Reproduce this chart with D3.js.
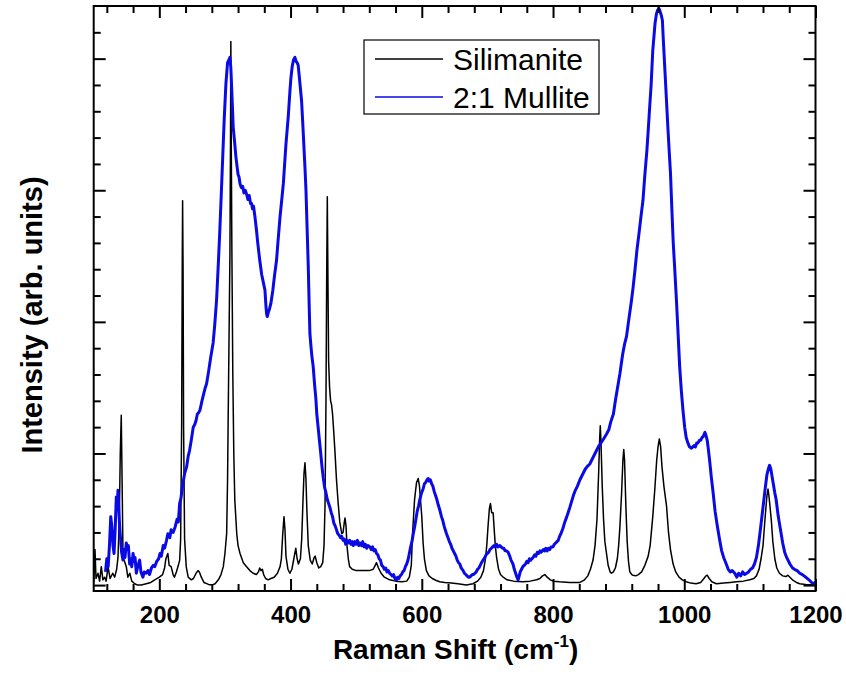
<!DOCTYPE html>
<html><head><meta charset="utf-8">
<script src="https://cdn.jsdelivr.net/npm/d3@7/dist/d3.min.js"></script>
<style>body{margin:0;background:#fff}svg{display:block}</style>
</head><body><svg id="c" width="846" height="683"></svg>
<script>
// ---- data (Raman shift in cm^-1, intensity in arbitrary units) ----
const seriesNames = ["Silimanite", "2:1 Mullite"];
const seriesColors = ["#000000", "#0a0ae6"];

const silimanite = [
[100,0.02],[101,0.15],[102,0.27],[103.5,0.05],[106.5,0.09],[109,0.03],[111.6,0.14],[114,0.04],[116.7,0.06],[119,0.03],
[121.8,0.14],[125,0.05],[129,0.09],[132,0.06],[135,0.12],[137,0.21],[139,0.5],[140.5,1.0],[142,1.29],[143,0.9],
[144.7,0.21],[147,0.18],[149.7,0.14],[152,0.06],[155,0.09],[158,0.03],[162.5,0.01],[167,0.0],[172.5,0.0],[180,0.01],
[187,0.02],[193,0.04],[200,0.06],[205,0.08],[208,0.13],[210,0.2],[213,0.24],[215,0.15],[218,0.14],[221,0.08],
[223,0.06],[226,0.1],[229,0.15],[231,0.19],[232.5,0.35],[234,1.2],[235,2.5],[235.5,2.92],[236.2,2.4],[237,1.2],
[238.5,0.35],[241,0.14],[244,0.06],[248.7,0.04],[252,0.05],[256,0.09],[259,0.11],[261,0.1],[264,0.06],[268,0.02],
[275,0.005],[280,0.0],[285,0.01],[290,0.04],[294,0.08],[297.5,0.14],[300,0.24],[302.6,0.39],[304,0.8],[305,1.3],
[306.5,2.0],[307.6,2.5],[308.5,3.4],[309,4.13],[309.5,3.5],[310.5,2.6],[312,1.6],[313.5,1.0],[315,0.65],[318,0.39],
[320,0.3],[323,0.24],[328,0.17],[333,0.14],[338,0.11],[343,0.09],[348,0.08],[351,0.1],[353,0.13],[355,0.11],
[357,0.12],[359,0.08],[362,0.05],[366,0.04],[370,0.05],[375,0.06],[380,0.09],[384,0.14],[386,0.2],[388,0.38],
[390,0.52],[391.5,0.42],[393,0.22],[396,0.12],[399,0.09],[402,0.12],[405,0.2],[408,0.28],[410,0.2],[412,0.16],
[415,0.2],[417,0.35],[419,0.65],[420.5,0.85],[422,0.93],[423.5,0.8],[425,0.55],[427,0.3],[430,0.19],[433,0.16],
[436,0.21],[437.5,0.22],[440,0.17],[443,0.13],[446,0.14],[449,0.17],[451,0.3],[452.5,0.6],[454,1.4],[455,2.3],
[456,2.95],[457,2.3],[458,1.7],[459.5,1.5],[461,1.4],[462.5,1.37],[464,1.3],[466,1.15],[467.6,1.02],[470,0.8],
[472.6,0.62],[475,0.48],[478,0.39],[480,0.4],[482,0.48],[483,0.51],[484.5,0.45],[486,0.3],[488,0.2],[490,0.14],
[494,0.12],[500,0.11],[505,0.11],[512,0.11],[520,0.11],[526,0.12],[529,0.15],[531,0.17],[534,0.13],[538,0.09],
[543,0.06],[551,0.04],[560,0.03],[570,0.025],[577,0.03],[581,0.06],[584,0.15],[586,0.4],[589,0.65],[592,0.78],
[594.5,0.81],[596.5,0.75],[598,0.65],[600,0.52],[602,0.32],[604,0.2],[607,0.11],[611,0.07],[616,0.05],[622,0.035],
[627.5,0.025],[635,0.02],[645,0.015],[655,0.01],[668,0.0],[678,0.01],[685,0.03],[690,0.06],[694,0.11],[697,0.2],
[699,0.3],[701,0.45],[703,0.58],[704.7,0.62],[706.5,0.55],[708.7,0.55],[710,0.45],[712,0.3],[714,0.21],[717,0.12],
[720,0.08],[724,0.06],[730,0.04],[740,0.03],[754,0.025],[765,0.03],[775,0.04],[780,0.05],[784,0.07],[787.5,0.08],
[791,0.06],[796,0.04],[800,0.03],[810,0.025],[825,0.02],[841,0.02],[848,0.04],[853,0.07],[857,0.12],[861,0.19],
[864,0.3],[867,0.5],[869.5,0.85],[871,1.1],[872,1.21],[873,1.1],[875,0.75],[877,0.5],[879,0.33],[881.5,0.24],
[884,0.15],[887,0.1],[889,0.09],[892,0.1],[895,0.13],[898,0.2],[900,0.3],[902,0.45],[904.5,0.7],[906.5,0.95],
[907.8,1.03],[909,0.95],[911,0.6],[913,0.33],[915,0.18],[917,0.1],[920,0.08],[922,0.075],[926,0.07],[930,0.08],
[935,0.1],[940,0.15],[945,0.22],[948,0.3],[952,0.52],[955,0.72],[958,0.95],[960,1.05],[962,1.11],[964,1.05],
[966,0.9],[969,0.75],[973,0.6],[976,0.4],[979,0.27],[983,0.16],[987,0.1],[992,0.06],[997,0.04],[1003,0.025],
[1010,0.015],[1018,0.01],[1025,0.02],[1030,0.05],[1033,0.07],[1035,0.075],[1038,0.05],[1042,0.025],[1049,0.01],[1060,0.015],
[1070,0.02],[1079,0.025],[1090,0.03],[1100,0.04],[1106,0.05],[1110,0.07],[1114,0.12],[1117,0.2],[1120,0.3],[1123,0.5],
[1126,0.68],[1127.6,0.73],[1129,0.68],[1131,0.58],[1132.7,0.49],[1135,0.33],[1138,0.2],[1141,0.13],[1145,0.09],[1150,0.07],
[1155,0.065],[1158,0.075],[1161,0.06],[1166,0.035],[1171,0.02],[1176,0.01],[1185,0.005],[1199,0.0]
];

const mullite = [
[118,0.1],[120,0.2],[122,0.14],[124,0.3],[126,0.52],[127.5,0.45],[129.4,0.3],[131,0.24],[132.5,0.4],[134.5,0.67],
[136,0.6],[137,0.72],[138.5,0.55],[139.6,0.44],[141,0.35],[142.5,0.25],[144.6,0.19],[146,0.27],[147.7,0.21],[149.7,0.32],
[151,0.28],[152.8,0.3],[154.8,0.16],[156,0.2],[158,0.14],[160,0.24],[162,0.18],[163,0.21],[165,0.09],[167,0.14],
[170,0.19],[172,0.1],[175,0.06],[177,0.1],[180,0.09],[182.7,0.11],[185,0.08],[188,0.13],[190.8,0.15],[193,0.14],
[196,0.18],[199,0.2],[201,0.24],[203,0.22],[206,0.3],[208,0.28],[211,0.34],[213,0.39],[216,0.36],[218,0.42],
[221,0.4],[224,0.44],[227,0.5],[229,0.48],[231,0.62],[233,0.66],[235,0.74],[238.6,0.85],[241.7,0.9],[244,0.98],
[246,1.02],[248.7,1.1],[251.7,1.2],[254,1.22],[256,1.25],[258,1.3],[260,1.31],[262,1.33],[265,1.4],[268,1.46],
[270,1.5],[272,1.53],[275,1.62],[278,1.72],[280,1.78],[282,1.84],[284.5,1.98],[287.3,2.17],[290,2.45],[292,2.67],
[294.5,2.98],[297,3.3],[299,3.55],[301.5,3.81],[304,3.97],[306,3.99],[307.6,4.01],[309,3.93],[310,3.81],[311.5,3.62],
[312.6,3.48],[314.5,3.38],[316.8,3.25],[318.5,3.18],[320,3.12],[321.5,3.1],[323,3.05],[325,3.02],[327,3.03],[329,2.98],
[331,3.0],[333,2.97],[335,2.93],[337,2.96],[339,2.9],[340.7,2.9],[342,2.86],[343.5,2.88],[345.7,2.8],[348,2.7],
[350,2.6],[353,2.47],[356,2.36],[358.5,2.3],[361,2.24],[362.5,2.12],[363.5,2.06],[364.5,2.04],[366,2.07],[368,2.1],
[370,2.14],[373,2.24],[375.5,2.35],[378.7,2.47],[381,2.62],[384,2.8],[387,2.95],[389,3.05],[391,3.2],[393,3.35],
[396.5,3.56],[399,3.75],[400.5,3.85],[402.5,3.94],[404.5,3.99],[406.6,4.01],[408.5,3.98],[410,3.97],[411.6,3.95],[413,3.88],
[414.5,3.8],[416.8,3.68],[418.5,3.52],[420,3.37],[421.9,3.18],[423.5,3.0],[425,2.75],[427,2.42],[428.5,2.1],[429.5,1.91],
[431,1.82],[432.5,1.74],[434.5,1.66],[436.5,1.53],[438.5,1.42],[440,1.3],[442,1.2],[444,1.1],[446,1.0],[447.7,0.91],
[449.7,0.82],[452,0.74],[454,0.7],[456,0.65],[458,0.62],[460,0.59],[462,0.55],[464,0.52],[466,0.47],[468,0.45],
[470,0.42],[472,0.39],[474,0.38],[476,0.36],[478,0.37],[480,0.34],[482,0.35],[484,0.31],[486,0.34],[488,0.32],
[490,0.34],[492,0.31],[494,0.33],[495.5,0.3],[498,0.33],[500,0.31],[502,0.34],[504,0.3],[505.6,0.32],[508,0.3],
[510,0.33],[512,0.29],[514,0.31],[516,0.28],[518,0.3],[521,0.29],[523,0.27],[525,0.29],[527,0.26],[529,0.27],
[531,0.24],[533,0.23],[535,0.2],[537,0.19],[539,0.15],[541,0.14],[543,0.12],[545,0.13],[547,0.1],[549,0.11],
[551,0.09],[553,0.08],[555,0.07],[557,0.08],[559,0.05],[561.5,0.04],[563,0.06],[565,0.05],[567,0.07],[569,0.08],
[571,0.1],[573,0.11],[575,0.14],[577,0.16],[579,0.19],[581,0.24],[583,0.29],[585,0.33],[587,0.39],[589,0.44],
[591,0.5],[593,0.56],[595,0.6],[597,0.65],[599.6,0.7],[602,0.73],[604,0.77],[606,0.78],[608,0.8],[609.7,0.81],
[611,0.79],[613,0.8],[615,0.77],[617,0.75],[619,0.71],[621,0.68],[623,0.65],[625,0.61],[627.5,0.57],[630,0.52],
[632,0.49],[634,0.45],[635.7,0.42],[637.7,0.39],[640,0.36],[642,0.33],[644,0.31],[646,0.28],[648,0.26],[650,0.24],
[652,0.22],[654,0.19],[656,0.17],[658,0.16],[660,0.13],[663,0.11],[665,0.09],[667,0.08],[669,0.07],[671,0.06],
[673,0.06],[675,0.07],[677,0.08],[679,0.08],[681,0.09],[683,0.1],[685,0.12],[687,0.13],[689,0.15],[691,0.17],
[693.5,0.19],[696,0.21],[698,0.23],[700,0.24],[702,0.25],[704,0.27],[706,0.28],[708,0.29],[710,0.3],[712,0.29],
[714,0.31],[716,0.29],[719,0.3],[721,0.29],[723,0.28],[725,0.28],[727,0.26],[729,0.26],[731.5,0.25],[734,0.22],
[736,0.19],[739,0.16],[741,0.12],[743,0.09],[745,0.06],[746.8,0.04],[748,0.06],[750,0.1],[752,0.12],[754,0.14],
[756,0.15],[758,0.16],[760,0.18],[762,0.17],[764,0.2],[766,0.19],[769.6,0.21],[772,0.23],[774,0.22],[776,0.25],
[778,0.24],[780,0.26],[782,0.25],[785,0.27],[787,0.26],[789,0.28],[791,0.26],[793,0.28],[795,0.27],[797,0.29],
[800,0.29],[802,0.31],[804,0.32],[806,0.33],[808,0.34],[810,0.37],[812,0.39],[815,0.43],[818,0.48],[821,0.52],
[823,0.55],[825.6,0.59],[828,0.63],[831,0.68],[834,0.72],[837,0.75],[841,0.8],[845,0.84],[849,0.88],[852,0.9],
[856,0.92],[860,0.96],[864,1.0],[869,1.05],[873,1.08],[877,1.11],[881.8,1.15],[885,1.18],[888,1.24],[892,1.3],
[895,1.4],[898,1.49],[902,1.61],[906,1.75],[909,1.83],[912,1.89],[915,2.0],[919.5,2.16],[922,2.26],[925,2.4],
[928,2.55],[931,2.67],[934,2.8],[937,2.92],[940,3.12],[943,3.3],[945,3.45],[947,3.61],[949.5,3.8],[952,4.06],
[954,4.18],[955.5,4.27],[957.6,4.34],[959.5,4.37],[961.5,4.38],[963,4.36],[965,4.33],[966.7,4.29],[968,4.15],[970,3.96],
[972.5,3.72],[975,3.48],[977,3.3],[979,3.13],[981,2.87],[983,2.62],[985.5,2.4],[988,2.17],[990.5,1.92],[993,1.66],
[995.5,1.48],[998,1.33],[1000.6,1.2],[1003,1.12],[1005.5,1.08],[1008,1.05],[1010.9,1.04],[1013,1.05],[1015,1.06],[1017,1.05],
[1019,1.08],[1021,1.08],[1023,1.1],[1025,1.1],[1027,1.12],[1029,1.13],[1031.5,1.16],[1033,1.14],[1035,1.1],[1037,1.02],
[1039,0.93],[1041,0.83],[1044,0.7],[1047,0.56],[1050,0.46],[1054,0.34],[1057,0.26],[1060,0.21],[1064,0.16],[1067,0.12],
[1070,0.1],[1073,0.11],[1077,0.09],[1080,0.06],[1083,0.09],[1086,0.07],[1089,0.1],[1092,0.08],[1095,0.09],[1098,0.1],
[1101,0.12],[1104,0.13],[1107,0.16],[1110,0.21],[1113,0.3],[1116,0.42],[1120,0.59],[1123,0.72],[1126,0.84],[1128,0.88],
[1130,0.91],[1132,0.88],[1134,0.82],[1136,0.76],[1138,0.7],[1140,0.65],[1143,0.53],[1146,0.44],[1150,0.32],[1153,0.25],
[1156,0.21],[1161,0.16],[1165,0.13],[1168,0.12],[1172,0.11],[1176,0.09],[1180,0.08],[1185,0.06],[1190,0.04],[1196,0.01],
[1200,0.02]
];

const xMajorTicks = [200, 400, 600, 800, 1000, 1200];
const xTickLabels = ["200", "400", "600", "800", "1000", "1200"];
const xMinorTicks = [120,160,240,280,320,360,440,480,520,560,640,680,720,760,840,880,920,960,1040,1080,1120,1160];
const yMajorTicks = [0, 1, 2, 3, 4];
const yMinorTicks = [0.2,0.4,0.6,0.8,1.2,1.4,1.6,1.8,2.2,2.4,2.6,2.8,3.2,3.4,3.6,3.8,4.2];
const xTitle = "Raman Shift (cm";
const yTitle = "Intensity (arb. units)";

// ---- drawing ----
const svg = d3.select("#c");
const L = 93.7, R = 815.5, T = 6, B = 591;
const x = d3.scaleLinear().domain([100, 1200]).range([L, R]);
const y = d3.scaleLinear().domain([-0.045, 4.4]).range([B, T]);
const FONT = "'Liberation Sans', Arial, Helvetica, sans-serif";

svg.append("rect").attr("width", 846).attr("height", 683).attr("fill", "#fff");

svg.append("clipPath").attr("id", "clip").append("rect")
  .attr("x", L).attr("y", T).attr("width", R - L).attr("height", B - T);

const line = d3.line().x(d => x(d[0])).y(d => y(d[1]));
const plot = svg.append("g").attr("clip-path", "url(#clip)");
plot.append("path").datum(silimanite).attr("d", line)
  .attr("fill", "none").attr("stroke", seriesColors[0]).attr("stroke-width", 1.5).attr("stroke-linejoin", "round");
plot.append("path").datum(mullite).attr("d", line)
  .attr("fill", "none").attr("stroke", seriesColors[1]).attr("stroke-width", 3).attr("stroke-linejoin", "round");

function styleAxis(g) {
  g.select(".domain").remove();
  g.selectAll(".tick line").attr("stroke", "#000").attr("stroke-width", 2);
}
// bottom
svg.append("g").attr("transform", `translate(0,${B})`)
  .call(d3.axisBottom(x).tickValues(xMajorTicks).tickSize(-12).tickPadding(16)
    .tickFormat((d, i) => xTickLabels[i]))
  .call(styleAxis)
  .call(g => g.selectAll("text").attr("font-family", FONT).attr("font-size", 24)
    .attr("font-weight", "bold").attr("fill", "#000").attr("dy", "0.71em").attr("y", 15));
svg.append("g").attr("transform", `translate(0,${B})`)
  .call(d3.axisBottom(x).tickValues(xMinorTicks).tickSize(-7).tickFormat(""))
  .call(styleAxis);
// top
svg.append("g").attr("transform", `translate(0,${T})`)
  .call(d3.axisTop(x).tickValues(xMajorTicks).tickSize(-12).tickFormat(""))
  .call(styleAxis);
svg.append("g").attr("transform", `translate(0,${T})`)
  .call(d3.axisTop(x).tickValues(xMinorTicks).tickSize(-7).tickFormat(""))
  .call(styleAxis);
// left
svg.append("g").attr("transform", `translate(${L},0)`)
  .call(d3.axisLeft(y).tickValues(yMajorTicks).tickSize(-12).tickFormat(""))
  .call(styleAxis);
svg.append("g").attr("transform", `translate(${L},0)`)
  .call(d3.axisLeft(y).tickValues(yMinorTicks).tickSize(-7).tickFormat(""))
  .call(styleAxis);
// right
svg.append("g").attr("transform", `translate(${R},0)`)
  .call(d3.axisRight(y).tickValues(yMajorTicks).tickSize(-12).tickFormat(""))
  .call(styleAxis);
svg.append("g").attr("transform", `translate(${R},0)`)
  .call(d3.axisRight(y).tickValues(yMinorTicks).tickSize(-7).tickFormat(""))
  .call(styleAxis);

// frame
svg.append("rect").attr("x", L).attr("y", T).attr("width", R - L).attr("height", B - T)
  .attr("fill", "none").attr("stroke", "#000").attr("stroke-width", 2);

// axis titles
const xt = svg.append("text").attr("x", (L + R) / 2 + 1).attr("y", 659)
  .attr("text-anchor", "middle").attr("font-family", FONT).attr("font-size", 28)
  .attr("font-weight", "bold").attr("fill", "#000");
xt.append("tspan").text(xTitle);
xt.append("tspan").text("-1").attr("font-size", 17).attr("dy", -12);
xt.append("tspan").text(")").attr("dy", 12);

svg.append("text").attr("transform", "translate(42,315) rotate(-90)")
  .attr("text-anchor", "middle").attr("font-family", FONT).attr("font-size", 29)
  .attr("font-weight", "bold").attr("fill", "#000").text(yTitle);

// legend
const lg = svg.append("g");
lg.append("rect").attr("x", 364).attr("y", 40).attr("width", 235).attr("height", 74)
  .attr("fill", "#fff").attr("stroke", "#000").attr("stroke-width", 1.2);
seriesNames.forEach((name, i) => {
  const yy = 59 + i * 38;
  lg.append("line").attr("x1", 375).attr("x2", 443).attr("y1", yy).attr("y2", yy)
    .attr("stroke", seriesColors[i]).attr("stroke-width", 1.5);
  lg.append("text").attr("x", 453).attr("y", yy + 11).attr("font-family", FONT)
    .attr("font-size", 30).attr("fill", "#000").text(name);
});
</script>
</body></html>
